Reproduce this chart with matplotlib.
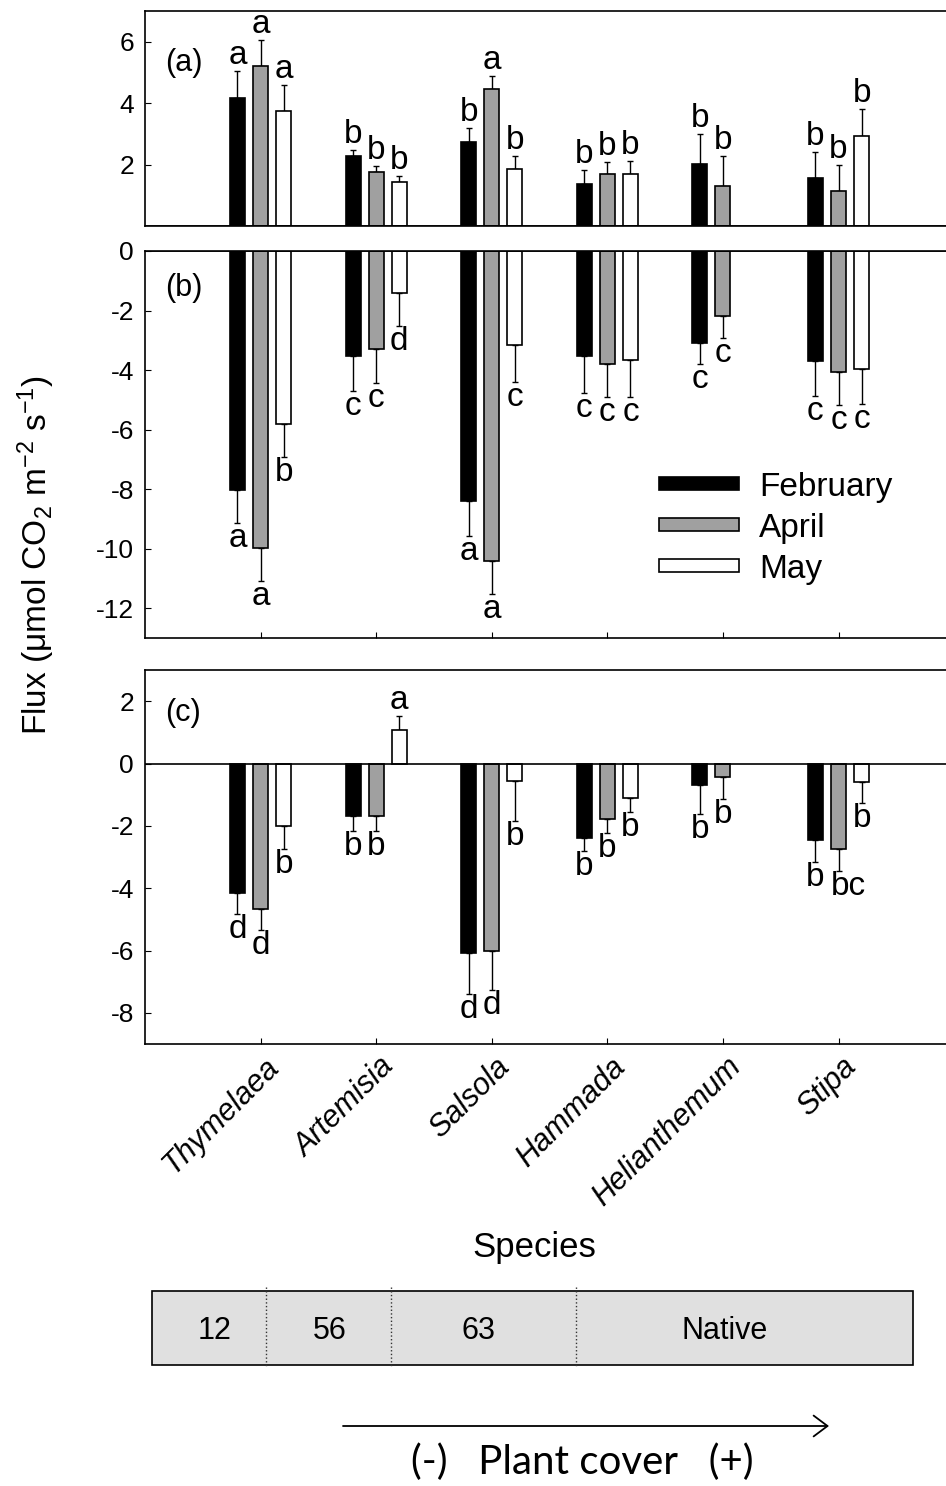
import numpy as np
import matplotlib
matplotlib.use('Agg')
import matplotlib.pyplot as plt
from matplotlib.transforms import ScaledTranslation

plt.rcParams['font.family'] = ['Liberation Sans', 'DejaVu Sans']
plt.rcParams['mathtext.fontset'] = 'custom'
plt.rcParams['mathtext.rm'] = 'Liberation Sans'
plt.rcParams['mathtext.default'] = 'regular'

nan = np.nan

species = ['Thymelaea', 'Artemisia', 'Salsola', 'Hammada', 'Helianthemum', 'Stipa']
months = ['February', 'April', 'May']

# panel (a)
a_feb = [4.18, 2.29, 2.75, 1.38, 2.01, 1.55]
a_feb_se = [0.87, 0.20, 0.44, 0.45, 0.98, 0.86]
a_apr = [5.20, 1.75, 4.47, 1.68, 1.30, 1.14]
a_apr_se = [0.87, 0.21, 0.41, 0.39, 0.99, 0.86]
a_may = [3.74, 1.43, 1.84, 1.68, nan, 2.94]
a_may_se = [0.86, 0.19, 0.44, 0.44, nan, 0.88]
a_letters = [['a', 'b', 'b', 'b', 'b', 'b'],
             ['a', 'b', 'a', 'b', 'b', 'b'],
             ['a', 'b', 'b', 'b', '', 'b']]

# panel (b)
b_feb = [-8.02, -3.52, -8.39, -3.54, -3.10, -3.69]
b_feb_se = [1.11, 1.17, 1.19, 1.24, 0.70, 1.17]
b_apr = [-9.99, -3.28, -10.41, -3.80, -2.19, -4.06]
b_apr_se = [1.09, 1.16, 1.11, 1.11, 0.72, 1.10]
b_may = [-5.80, -1.41, -3.17, -3.67, nan, -3.97]
b_may_se = [1.11, 1.11, 1.24, 1.24, nan, 1.16]
b_letters = [['a', 'c', 'a', 'c', 'c', 'c'],
             ['a', 'c', 'a', 'c', 'c', 'c'],
             ['b', 'd', 'c', 'c', '', 'c']]

# panel (c)
c_feb = [-4.14, -1.70, -6.09, -2.38, -0.68, -2.45]
c_feb_se = [0.70, 0.45, 1.29, 0.43, 0.93, 0.70]
c_apr = [-4.67, -1.70, -6.00, -1.78, -0.44, -2.74]
c_apr_se = [0.68, 0.45, 1.27, 0.46, 0.70, 0.70]
c_may = [-2.02, 1.06, -0.55, -1.11, nan, -0.58]
c_may_se = [0.71, 0.45, 1.31, 0.46, nan, 0.69]
c_letters = [['d', 'b', 'd', 'b', 'b', 'b'],
             ['d', 'b', 'd', 'b', 'b', 'bc'],
             ['b', 'a', 'b', 'b', '', 'b']]

# invasion classes shown under the species axis
cover_labels = ['12', '56', '63', 'Native']

colors = ['black', '#a0a0a0', 'white']

W, H = 946, 1486
fig = plt.figure(figsize=(W / 100, H / 100), dpi=100)


def frac(left, top, right, bottom):
    return [left / W, 1 - bottom / H, (right - left) / W, (bottom - top) / H]


ax_a = fig.add_axes(frac(145, 11, 946, 226))
ax_b = fig.add_axes(frac(145, 251, 946, 638))
ax_c = fig.add_axes(frac(145, 670, 946, 1044))

x = np.arange(1, len(species) + 1)
offsets = [-0.2, 0.0, 0.2]
width = 0.13


def draw_panel(ax, vals, errs, letters, tag, ylim, yticks, tag_y):
    for k in range(3):
        v = np.array(vals[k], dtype=float)
        e = np.array(errs[k], dtype=float)
        xs = x + offsets[k]
        ax.bar(xs, v, width, color=colors[k], edgecolor='black',
               linewidth=1.2, label=months[k], zorder=2)
        lo = np.where(v < 0, e, 0)
        hi = np.where(v >= 0, e, 0)
        ax.errorbar(xs, v, yerr=[lo, hi], fmt='none', ecolor='black',
                    elinewidth=1, capsize=2.5, capthick=1, zorder=1)
        for xi, vi, ei, lt in zip(xs, v, e, letters[k]):
            if not lt or np.isnan(vi):
                continue
            # two-letter groups start at the bar and run to the right
            ha, dx = ('left', -8) if len(lt) > 1 else ('center', 0)
            if vi >= 0:
                ax.annotate(lt, (xi, vi + ei), xytext=(dx, 0),
                            textcoords='offset pixels', ha=ha,
                            va='bottom', fontsize=24)
            else:
                ax.annotate(lt, (xi, vi - ei), xytext=(dx, 0),
                            textcoords='offset pixels', ha=ha,
                            va='top', fontsize=24)
    ax.set_xlim(0, 6.93)
    ax.set_ylim(*ylim)
    ax.set_yticks(yticks)
    ax.set_yticklabels([str(t) for t in yticks])
    ax.tick_params(axis='y', direction='in', length=4, labelsize=19, pad=8)
    ax.tick_params(axis='x', direction='in', length=4)
    ax.set_xticks(x)
    ax.set_xticklabels([])
    ax.spines['right'].set_visible(False)
    for s in ['left', 'top', 'bottom']:
        ax.spines[s].set_linewidth(1.2)
    ax.axhline(0, color='black', linewidth=1.2, zorder=3)
    ax.text(0.025, tag_y, tag, transform=ax.transAxes, fontsize=22,
            ha='left', va='center')


draw_panel(ax_a, [a_feb, a_apr, a_may], [a_feb_se, a_apr_se, a_may_se],
           a_letters, '(a)', (0, 7), [2, 4, 6], 0.76)
draw_panel(ax_b, [b_feb, b_apr, b_may], [b_feb_se, b_apr_se, b_may_se],
           b_letters, '(b)', (-13, 0), [0, -2, -4, -6, -8, -10, -12], 0.905)
draw_panel(ax_c, [c_feb, c_apr, c_may], [c_feb_se, c_apr_se, c_may_se],
           c_letters, '(c)', (-9, 3), [2, 0, -2, -4, -6, -8], 0.885)
ax_a.tick_params(axis='x', length=0)

# species labels under panel (c)
ax_c.tick_params(axis='x', pad=0)
ax_c.set_xticklabels(species, rotation=45, ha='right', va='top',
                     rotation_mode='anchor', fontsize=22, style='italic')
shift = ScaledTranslation(0.03, -0.08, fig.dpi_scale_trans)
for lab in ax_c.get_xticklabels():
    lab.set_transform(lab.get_transform() + shift)

leg = ax_b.legend(loc='upper left', bbox_to_anchor=(659 / W, 1 - 472 / H),
                  bbox_transform=fig.transFigure, frameon=False, fontsize=24,
                  handlelength=2.4, handleheight=0.22, handletextpad=0.6,
                  labelspacing=0.3, borderpad=0, borderaxespad=0)

fig.text(36 / W, 1 - 555 / H, 'Flux (μmol CO$_2$ m$^{-2}$ s$^{-1}$)',
         rotation=90, ha='center', va='center', fontsize=24)
fig.text(534 / W, 1 - 1248 / H, 'Species', ha='center', va='center',
         fontsize=25)

# plant cover box and arrow
ax_bot = fig.add_axes([0, 0, 1, 1], zorder=-1)
ax_bot.set_xlim(0, W)
ax_bot.set_ylim(H, 0)
ax_bot.axis('off')
ax_bot.add_patch(plt.Rectangle((152, 1291), 913 - 152, 1365 - 1291,
                               facecolor='#e0e0e0', edgecolor='black',
                               linewidth=1.2))
for xd in [266, 391, 576]:
    ax_bot.plot([xd, xd], [1287, 1367], color='#333333', linestyle=':',
                linewidth=1)
for xt, lab in zip([215, 330, 478, 725], cover_labels):
    ax_bot.text(xt, 1331, lab, ha='center', va='center', fontsize=22)

ax_bot.annotate('', xy=(829, 1426), xytext=(343, 1426),
                arrowprops=dict(arrowstyle='->, head_length=0.4, head_width=0.3',
                                lw=1.3, color='black', mutation_scale=25,
                                shrinkA=0, shrinkB=0))
ax_bot.text(582, 1462, '(-)   Plant cover   (+)', ha='center', va='center',
            fontsize=29, family=['Lato', 'DejaVu Sans'])

fig.savefig('out.png', dpi=100)
